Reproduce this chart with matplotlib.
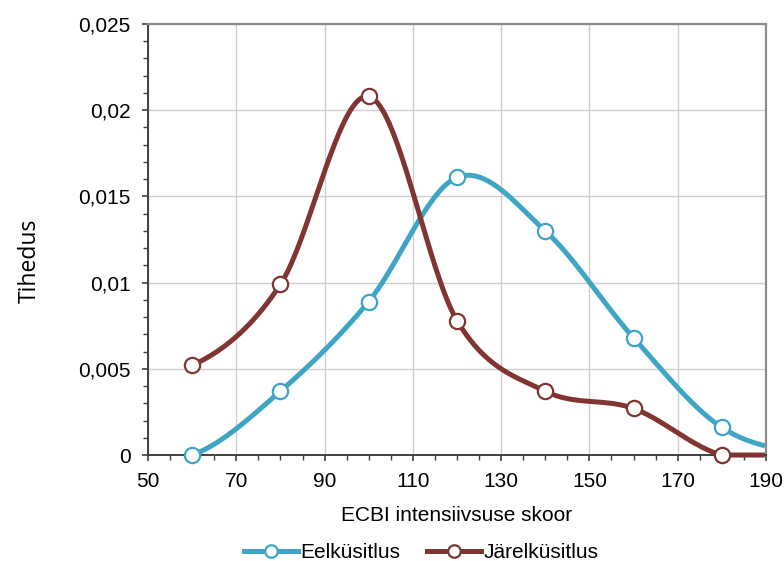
import numpy as np
import matplotlib
matplotlib.use("Agg")
import matplotlib.pyplot as plt
from matplotlib.ticker import MultipleLocator, FuncFormatter

plt.rcParams['font.family'] = ['Liberation Sans', 'DejaVu Sans']

x_scores = [60, 80, 100, 120, 140, 160, 180, 200]
eel = [0.0, 0.0037, 0.0089, 0.0161, 0.0130, 0.0068, 0.0016, 0.0001]
jarel = [0.0052, 0.0099, 0.0208, 0.0078, 0.0037, 0.0027, 0.0, 0.0]
n_marked = 7  # markers shown for first 7 points

teal = '#3ea6c4'
red = '#813532'


def catmull(xs, ys, n=40):
    xs = np.asarray(xs, float)
    ys = np.asarray(ys, float)
    px = np.concatenate([[2 * xs[0] - xs[1]], xs, [2 * xs[-1] - xs[-2]]])
    py = np.concatenate([[ys[0]], ys, [ys[-1]]])
    ox, oy = [], []
    for i in range(1, len(px) - 2):
        p0x, p1x, p2x, p3x = px[i - 1], px[i], px[i + 1], px[i + 2]
        p0y, p1y, p2y, p3y = py[i - 1], py[i], py[i + 1], py[i + 2]
        c1x = p1x + (p2x - p0x) / 6
        c1y = p1y + (p2y - p0y) / 6
        c2x = p2x - (p3x - p1x) / 6
        c2y = p2y - (p3y - p1y) / 6
        t = np.linspace(0, 1, n)
        b0 = (1 - t) ** 3
        b1 = 3 * (1 - t) ** 2 * t
        b2 = 3 * (1 - t) * t ** 2
        b3 = t ** 3
        ox.append(b0 * p1x + b1 * c1x + b2 * c2x + b3 * p2x)
        oy.append(b0 * p1y + b1 * c1y + b2 * c2y + b3 * p2y)
    return np.concatenate(ox), np.concatenate(oy)


fig = plt.figure(figsize=(7.84, 5.61), dpi=100)
ax = fig.add_axes([0.1888, 0.1889, 0.977 - 0.1888, 0.9572 - 0.1889])

XMAX = 190
for ys, col, lab in [(eel, teal, 'Eelküsitlus'), (jarel, red, 'Järelküsitlus')]:
    sx, sy = catmull(x_scores, ys)
    keep = sx <= XMAX
    sx, sy = sx[keep], np.maximum(sy[keep], 0)
    ax.plot(sx, sy, color=col, lw=3.6, solid_capstyle='butt', zorder=5, clip_on=False)
    ax.plot(x_scores[:n_marked], ys[:n_marked], 'o', ms=11, mfc='white', mec=col,
            mew=1.6, zorder=6, clip_on=False)
    ax.plot([], [], color=col, lw=3.6, marker='o', ms=9, mfc='white', mec=col,
            mew=1.6, label=lab)

ax.set_xlim(50, XMAX)
ax.set_ylim(0, 0.025)
ax.xaxis.set_minor_locator(MultipleLocator(5))
ax.yaxis.set_major_locator(MultipleLocator(0.005))
ax.yaxis.set_minor_locator(MultipleLocator(0.001))
ax.set_xticks(np.arange(50, 191, 20))

def yfmt(v, pos):
    if abs(v) < 1e-12:
        return '0'
    s = ('%.3f' % v).rstrip('0')
    return s.replace('.', ',')

ax.yaxis.set_major_formatter(FuncFormatter(yfmt))

ax.grid(True, which='major', color='#cfcfcf', lw=1.0, zorder=0)
ax.set_axisbelow(True)

for s in ['top', 'right']:
    ax.spines[s].set_color('#8c8c8c')
    ax.spines[s].set_linewidth(1.6)
for s in ['left', 'bottom']:
    ax.spines[s].set_color('#404040')
    ax.spines[s].set_linewidth(1.4)

ax.tick_params(which='major', direction='out', length=4.5, width=1.2, color='#404040',
               labelsize=15, pad=8)
ax.tick_params(which='minor', direction='out', length=3.5, width=1.0, color='#404040')

ax.set_xlabel('ECBI intensiivsuse skoor', fontsize=15)
ax.xaxis.set_label_coords(0.5, -0.118)
ax.set_ylabel('Tihedus', fontsize=16.5, family=['Open Sans', 'DejaVu Sans'])
ax.yaxis.set_label_coords(-0.172, 0.45)

fig.legend(loc='center', bbox_to_anchor=(0.537, 0.015), ncol=2, frameon=False,
           fontsize=15, handlelength=2.6, columnspacing=1.3, handletextpad=0.1)

fig.savefig('out.png', dpi=100)
